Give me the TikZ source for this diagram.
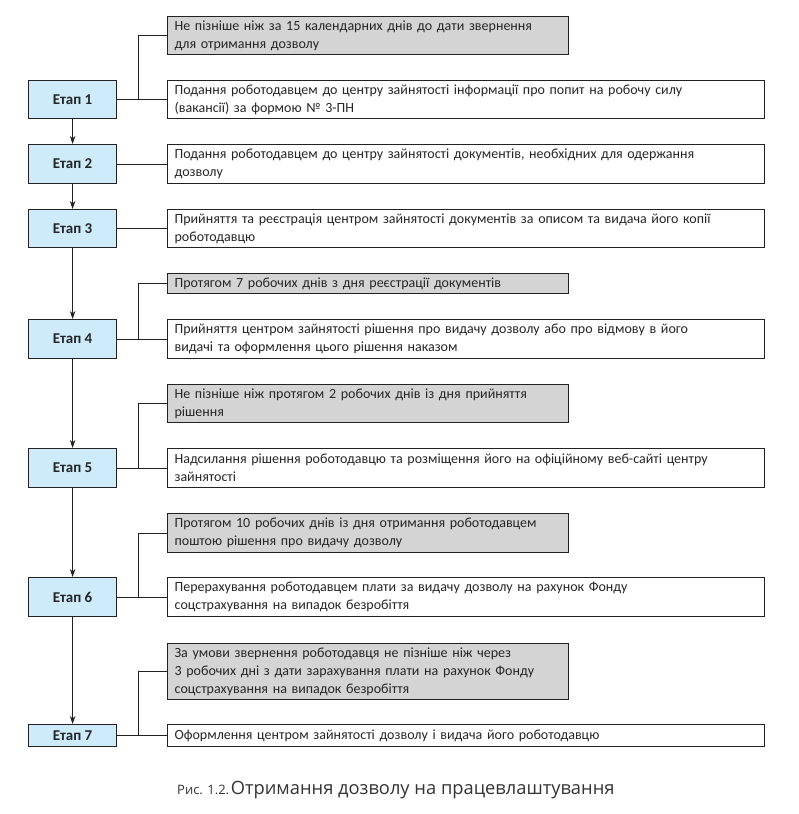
\documentclass[tikz,border=0pt]{standalone}
\usepackage{fontspec}
\setmainfont{Carlito}
\newfontfamily\capfont{Open Sans}
\usetikzlibrary{arrows.meta}
\definecolor{etapblue}{HTML}{CDEBFA}
\definecolor{boxgray}{HTML}{D4D4D4}
\definecolor{linecol}{HTML}{222222}
\tikzset{
  basebox/.style={draw=linecol, line width=1.2pt, anchor=north west, inner xsep=7pt, inner ysep=0pt,
    align=left, font=\fontsize{14}{18}\selectfont, text=black!85},
  wbox/.style={basebox, fill=white, minimum width=597pt, text width=583pt},
  gbox/.style={basebox, fill=boxgray, minimum width=401pt, text width=387pt},
  etap/.style={draw=linecol, line width=1.2pt, anchor=north west, fill=etapblue, minimum width=88pt,
    inner sep=0pt, font=\fontsize{15}{18}\selectfont\bfseries, text=black!85},
  conn/.style={draw=linecol, line width=1pt},
  flow/.style={draw=linecol, line width=1pt, -{Stealth[length=8pt,width=5.5pt,inset=2.5pt]}}
}
\begin{document}
\begin{tikzpicture}[x=1pt,y=-1pt]
\useasboundingbox (0,0) rectangle (799,814);
% Etap boxes
\node[etap, minimum height=38pt] (e1) at (28,80) {Етап 1};
\node[etap, minimum height=39pt] (e2) at (28,144) {Етап 2};
\node[etap, minimum height=38pt] (e3) at (28,209) {Етап 3};
\node[etap, minimum height=39pt] (e4) at (28,319) {Етап 4};
\node[etap, minimum height=39pt] (e5) at (28,448) {Етап 5};
\node[etap, minimum height=39pt] (e6) at (28,577) {Етап 6};
\node[etap, minimum height=22pt] (e7) at (28,724) {Етап 7};
% Right boxes
\node[gbox, minimum height=38pt] (g1) at (167,16) {Не пізніше ніж за 15 календарних днів до дати звернення\\для отримання дозволу};
\node[wbox, minimum height=38pt] (w1) at (167,80) {Подання роботодавцем до центру зайнятості інформації про попит на робочу силу\\(вакансії) за формою № 3-ПН};
\node[wbox, minimum height=39pt] (w2) at (167,144) {Подання роботодавцем до центру зайнятості документів, необхідних для одержання\\дозволу};
\node[wbox, minimum height=38pt] (w3) at (167,209) {Прийняття та реєстрація центром зайнятості документів за описом та видача його копії\\роботодавцю};
\node[gbox, minimum height=20pt] (g4) at (167,273) {Протягом 7 робочих днів з дня реєстрації документів};
\node[wbox, minimum height=39pt] (w4) at (167,319) {Прийняття центром зайнятості рішення про видачу дозволу або про відмову в його\\видачі та оформлення цього рішення наказом};
\node[gbox, minimum height=38pt] (g5) at (167,384) {Не пізніше ніж протягом 2 робочих днів із дня прийняття\\рішення};
\node[wbox, minimum height=39pt] (w5) at (167,448) {Надсилання рішення роботодавцю та розміщення його на офіційному веб-сайті центру\\зайнятості};
\node[gbox, minimum height=39pt] (g6) at (167,513) {Протягом 10 робочих днів із дня отримання роботодавцем\\поштою рішення про видачу дозволу};
\node[wbox, minimum height=39pt] (w6) at (167,577) {Перерахування роботодавцем плати за видачу дозволу на рахунок Фонду\\соцстрахування на випадок безробіття};
\node[gbox, minimum height=56pt] (g7) at (167,643) {За умови звернення роботодавця не пізніше ніж через\\3 робочих дні з дати зарахування плати на рахунок Фонду\\соцстрахування на випадок безробіття};
\node[wbox, minimum height=22pt] (w7) at (167,724) {Оформлення центром зайнятості дозволу і видача його роботодавцю};
% horizontal connectors
\foreach \i in {1,...,7} { \draw[conn] (e\i.east) -- (w\i.west); }
% branches to gray boxes
\foreach \i in {1,4,5,6,7} { \draw[conn] (g\i.west) -- ++(-29,0) |- (e\i.east); }
% flow arrows
\foreach \i/\j in {1/2,2/3,3/4,4/5,5/6,6/7} { \draw[flow] (e\i.south) -- (e\j.north); }
% caption
\node[anchor=west, inner sep=0pt, text=black!80] (cap) at (177,790)
  {{\capfont\fontsize{13}{16}\selectfont Рис. 1.2.}\,{\capfont\fontsize{18.3}{22}\selectfont Отримання дозволу на працевлаштування}};
\end{tikzpicture}
\end{document}
